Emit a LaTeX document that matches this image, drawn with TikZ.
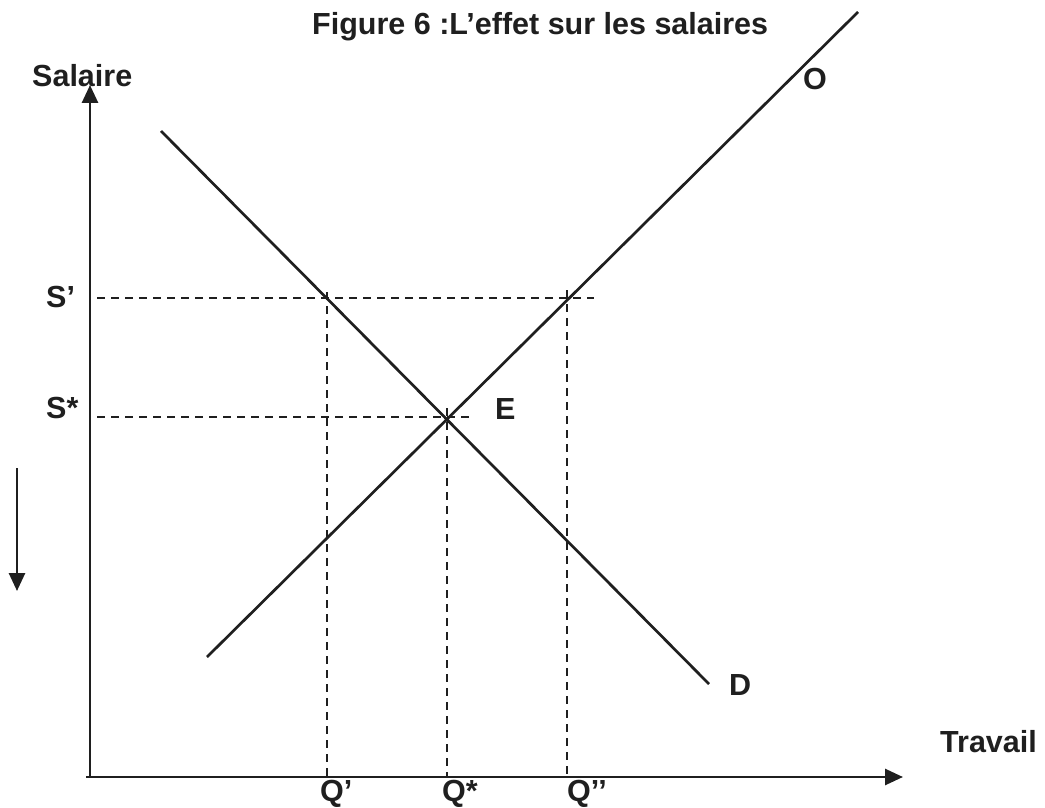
\documentclass[tikz,border=0pt]{standalone}
\usepackage{fontspec}
\setmainfont{Liberation Sans}
\usetikzlibrary{arrows.meta}
\begin{document}
\begin{tikzpicture}[x=1pt,y=-1pt,
  lbl/.style={anchor=base west,inner sep=0pt,font=\fontsize{30.5}{36}\selectfont\bfseries,text=black!88},
  curve/.style={line width=2.7pt,black!88},
  axis/.style={line width=2.7pt,black!88,-{Triangle[length=18pt,width=16pt]}},
  guide/.style={line width=2.2pt,black!88,dash pattern=on 8pt off 6pt}]
\useasboundingbox (0,0) rectangle (1045,808);
% axes
\coordinate (orig) at (90,777);
\coordinate (ytip) at (90,85);
\coordinate (xstart) at (86,777);
\coordinate (xtip) at (903,777);
\draw[axis] (orig) -- (ytip);
\draw[axis] (xstart) -- (xtip);
% small down arrow
\coordinate (da1) at (17,468);
\coordinate (da2) at (17,591);
\draw[axis] (da1) -- (da2);
% demand and supply
\coordinate (d1) at (161,131);
\coordinate (d2) at (709,684);
\coordinate (o1) at (207,657);
\coordinate (o2) at (858,12);
\draw[curve] (d1) -- (d2);
\draw[curve] (o1) -- (o2);
% guides
\coordinate (sp0) at (97,298);
\coordinate (sp1) at (594,298);
\coordinate (ss0) at (97,417);
\coordinate (ss1) at (472,417);
\coordinate (qp0) at (327,292);
\coordinate (qp1) at (327,777);
\coordinate (qs0) at (447,408);
\coordinate (qs1) at (447,777);
\coordinate (qd0) at (567,290);
\coordinate (qd1) at (567,777);
\draw[guide] (sp0) -- (sp1);
\draw[guide] (ss0) -- (ss1);
\draw[guide] (qp0) -- (qp1);
\draw[guide] (qs0) -- (qs1);
\draw[guide] (qd0) -- (qd1);
% labels
\node[lbl] (title) at (312,35) {Figure 6 :L’effet sur les salaires};
\node[lbl] (salaire) at (32,87) {Salaire};
\node[lbl] (sprime) at (46,307) {S’};
\node[lbl] (sstar) at (46,418) {S*};
\node[lbl] (E) at (495,419) {E};
\node[lbl] (O) at (803,89) {O};
\node[lbl] (D) at (729,695) {D};
\node[lbl] (travail) at (940,752) {Travail};
\node[lbl] (qprime) at (320,801) {Q’};
\node[lbl] (qstar) at (442,801) {Q*};
\node[lbl] (qdd) at (567,801) {Q’’};
\end{tikzpicture}
\end{document}
